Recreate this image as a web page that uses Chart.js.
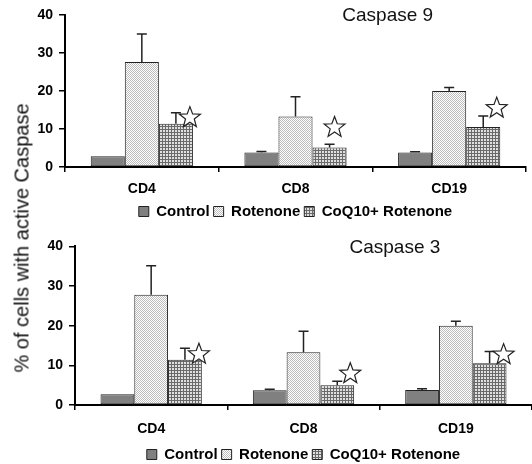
<!DOCTYPE html>
<html>
<head>
<meta charset="utf-8">
<script src="https://cdn.jsdelivr.net/npm/chart.js@4"></script>
<style>
  html, body { margin: 0; padding: 0; background: #fff; }
  #wrap { position: relative; width: 532px; height: 464px; background: #fff; overflow: hidden; }
  .panel { position: absolute; left: 0; width: 532px; }
  #ytitle {
    position: absolute; left: 22px; top: 238px;
    transform: translate(-50%, -50%) rotate(-90deg);
    white-space: nowrap; font: 20px "Liberation Sans", Arial, sans-serif; color: #111;
  }
</style>
</head>
<body>
<div id="wrap">
  <div class="panel" style="top:0;height:232px"><canvas id="casp9"></canvas></div>
  <div class="panel" style="top:232px;height:250px"><canvas id="casp3"></canvas></div>
  <div id="ytitle">% of cells with active Caspase</div>
</div>
<script>
// categories and series
const categories = ['CD4', 'CD8', 'CD19'];
const seriesNames = ['Control', 'Rotenone', 'CoQ10+ Rotenone'];
const yTicks = [0, 10, 20, 30, 40];

// Caspase 9 (means and upper error)
const c9Control = [2.8, 3.8, 3.8];
const c9Rotenone = [27.6, 13.3, 20.0];
const c9CoQ = [11.4, 5.1, 10.5];
const c9ControlErr = [0, 0.3, 0.2];
const c9RotenoneErr = [7.4, 5.2, 0.9];
const c9CoQErr = [2.9, 0.9, 2.9];
const c9Stars = [13.0, 10.4, 15.5];

// Caspase 3
const c3Control = [2.7, 3.7, 3.8];
const c3Rotenone = [27.8, 13.3, 20.0];
const c3CoQ = [11.4, 5.0, 10.5];
const c3ControlErr = [0, 0.3, 0.3];
const c3RotenoneErr = [7.3, 5.3, 1.1];
const c3CoQErr = [2.9, 1.0, 3.0];
const c3Stars = [12.8, 7.9, 12.7];

const FONT = '"Liberation Sans", Arial, sans-serif';

const makePattern = (kind) => {
  const c = document.createElement('canvas');
  const g = c.getContext('2d');
  if (kind === 'dots') {
    c.width = 2; c.height = 2;
    g.fillStyle = '#fff'; g.fillRect(0, 0, 2, 2);
    g.fillStyle = '#bdbdbd'; g.fillRect(0, 0, 1, 1); g.fillRect(1, 1, 1, 1);
  } else {
    c.width = 3; c.height = 3;
    g.fillStyle = '#e0e0e0'; g.fillRect(0, 0, 3, 3);
    g.fillStyle = '#6a6a6a'; g.fillRect(0, 0, 3, 1); g.fillRect(0, 0, 1, 3);
  }
  return g.createPattern(c, 'repeat');
};

const drawStar = (ctx, cx, cy, R, r) => {
  ctx.beginPath();
  for (let i = 0; i < 10; i++) {
    const rad = i % 2 === 0 ? R : r;
    const a = -Math.PI / 2 + i * Math.PI / 5;
    const px = cx + rad * Math.cos(a), py = cy + rad * Math.sin(a);
    if (i === 0) ctx.moveTo(px, py); else ctx.lineTo(px, py);
  }
  ctx.closePath();
  ctx.fillStyle = '#fff';
  ctx.fill();
  ctx.lineWidth = 1.2;
  ctx.strokeStyle = '#222';
  ctx.stroke();
};

// error bars, significance stars and the panel title
const extrasPlugin = {
  id: 'extras',
  afterDatasetsDraw(chart, args, opts) {
    const ctx = chart.ctx;
    const y = chart.scales.y;
    ctx.save();
    ctx.strokeStyle = '#222';
    ctx.lineWidth = 1.5;
    chart.data.datasets.forEach((ds, i) => {
      chart.getDatasetMeta(i).data.forEach((bar, j) => {
        const e = ds.errors[j];
        if (!e) return;
        const top = y.getPixelForValue(ds.data[j] + e);
        ctx.beginPath();
        ctx.moveTo(bar.x, bar.y);
        ctx.lineTo(bar.x, top);
        ctx.moveTo(bar.x - 5, top);
        ctx.lineTo(bar.x + 5, top);
        ctx.stroke();
      });
    });
    const coq = chart.getDatasetMeta(2).data;
    opts.stars.forEach((v, j) => {
      drawStar(ctx, coq[j].x + opts.starDx[j], y.getPixelForValue(v), 11, 4.6);
    });
    const area = chart.chartArea;
    ctx.font = '19px ' + FONT;
    ctx.fillStyle = '#111';
    ctx.textAlign = 'center';
    ctx.textBaseline = 'middle';
    ctx.fillText(opts.title, area.left + (area.right - area.left) * 0.7, area.top + 1);
    ctx.restore();
  }
};

const buildChart = (id, title, values, errors, stars, starDx, pad, tickPad, xHeight) => {
  const fills = ['#808080', makePattern('dots'), makePattern('grid')];
  const datasets = seriesNames.map((name, i) => ({
    label: name,
    data: values[i],
    errors: errors[i],
    backgroundColor: fills[i],
    borderColor: '#222',
    borderWidth: 1,
    borderSkipped: false,
    categoryPercentage: 0.665,
    barPercentage: 1.0
  }));
  return new Chart(document.getElementById(id), {
    type: 'bar',
    data: { labels: categories, datasets },
    plugins: [extrasPlugin],
    options: {
      responsive: true,
      maintainAspectRatio: false,
      animation: false,
      layout: { padding: pad },
      scales: {
        x: {
          afterFit: (s) => { s.height = xHeight; },
          grid: { drawOnChartArea: false, drawTicks: true, tickLength: 5, color: '#000', lineWidth: 1.5, offset: true },
          border: { color: '#000', width: 2 },
          ticks: { color: '#000', padding: tickPad, font: { family: FONT, size: 14, weight: 'bold' } }
        },
        y: {
          min: 0, max: 40,
          afterBuildTicks: (s) => { s.ticks = yTicks.map(v => ({ value: v })); },
          afterFit: (s) => { s.width = 28; },
          grid: { drawOnChartArea: false, drawTicks: true, tickLength: 6, color: '#000', lineWidth: 1.5 },
          border: { color: '#000', width: 2 },
          ticks: { color: '#000', padding: 6, font: { family: FONT, size: 14, weight: 'bold' } }
        }
      },
      plugins: {
        legend: {
          position: 'bottom',
          fullSize: false,
          labels: {
            boxWidth: 10, boxHeight: 10, padding: 4, color: '#000',
            font: { family: FONT, size: 15, weight: 'bold' }
          }
        },
        tooltip: { enabled: false },
        extras: { title, stars, starDx }
      }
    }
  });
};

buildChart('casp9', 'Caspase 9',
  [c9Control, c9Rotenone, c9CoQ], [c9ControlErr, c9RotenoneErr, c9CoQErr],
  c9Stars, [14, 5, 13.5],
  { left: 37, right: 6, top: 15, bottom: 3 }, 9, 33);

buildChart('casp3', 'Caspase 3',
  [c3Control, c3Rotenone, c3CoQ], [c3ControlErr, c3RotenoneErr, c3CoQErr],
  c3Stars, [14, 13, 14],
  { left: 47, right: 0, top: 14, bottom: 10 }, 11, 38);
</script>
</body>
</html>
